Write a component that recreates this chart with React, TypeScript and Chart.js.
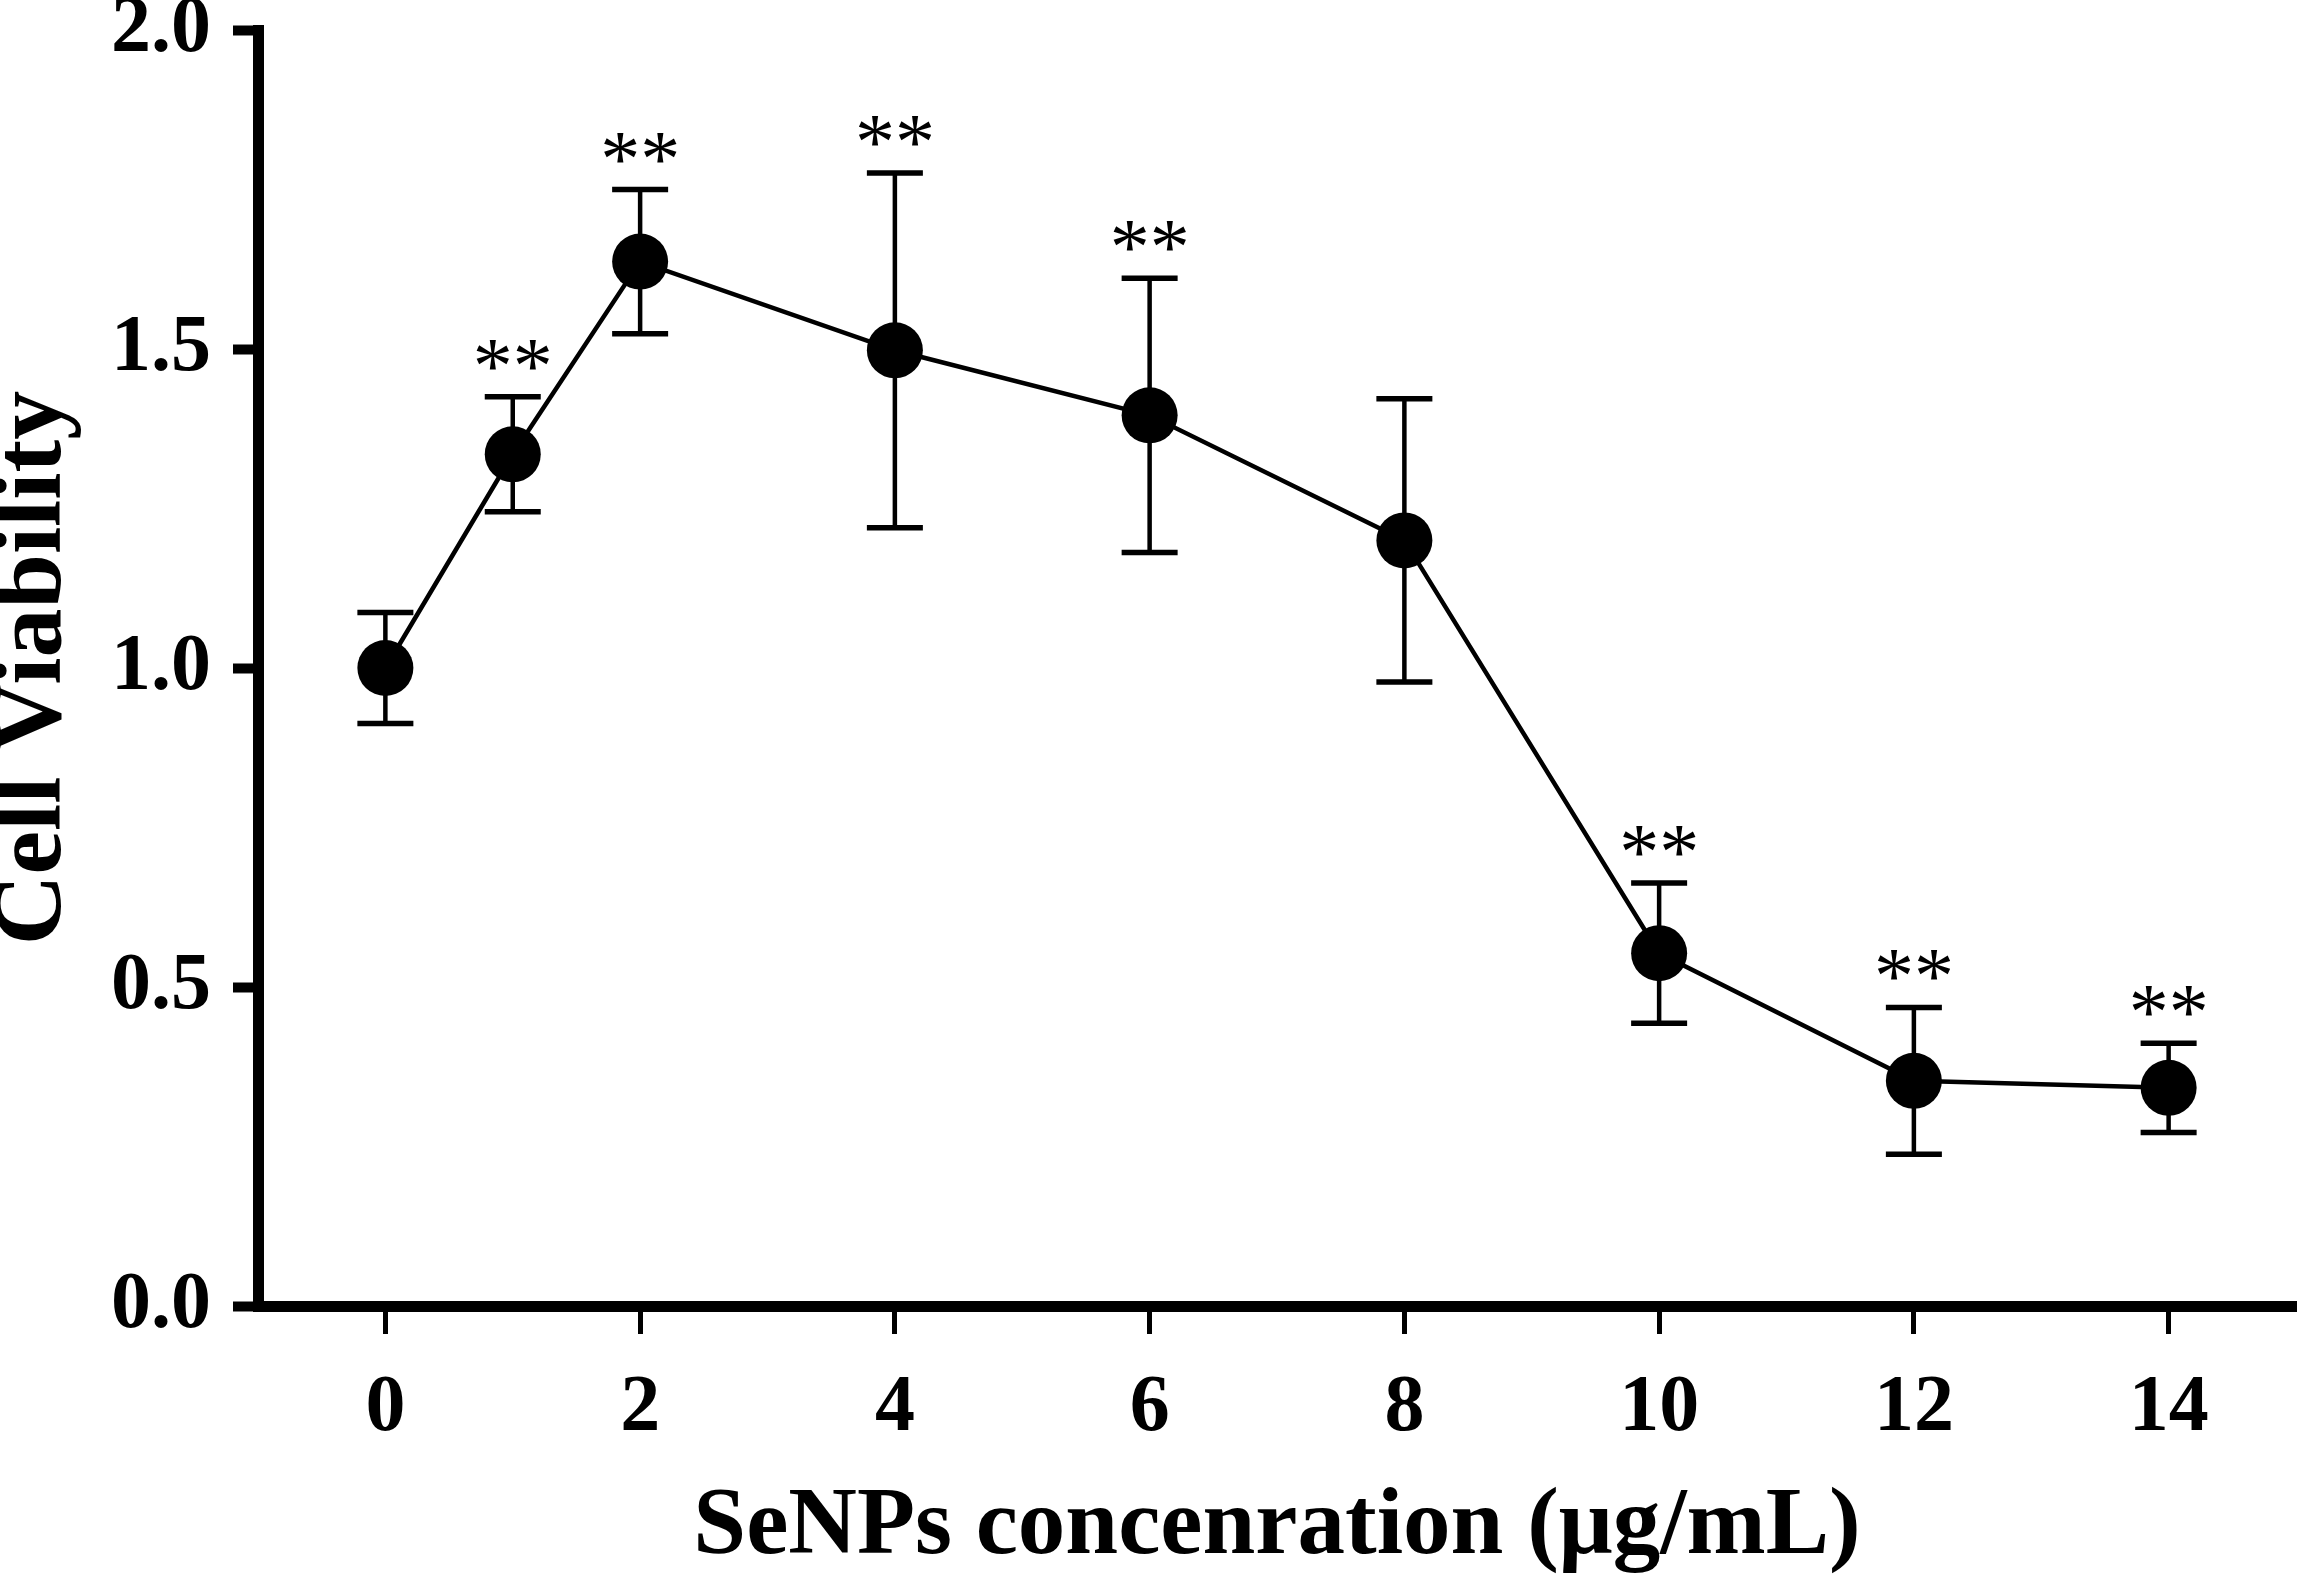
import { useEffect, useRef } from "react";
import { Chart, registerables, type Plugin } from "chart.js";

Chart.register(...registerables);

// values
const concentrations = [0, 1, 2, 4, 6, 8, 10, 12, 14];
const viability = [1.0, 1.335, 1.637, 1.498, 1.396, 1.2, 0.553, 0.353, 0.342];
const errors = [0.087, 0.09, 0.113, 0.278, 0.215, 0.222, 0.11, 0.115, 0.07];
const significance = ["", "**", "**", "**", "**", "", "**", "**", "**"];
const xTicks = [0, 2, 4, 6, 8, 10, 12, 14];
const yTicks = [0, 0.5, 1.0, 1.5, 2.0];

const serif = '"Liberation Serif", "Times New Roman", serif';

const errorBarPlugin: Plugin<"line"> = {
  id: "errorBars",
  beforeDatasetsDraw(chart) {
    const { ctx } = chart;
    const x = chart.scales.x;
    const y = chart.scales.y;
    ctx.save();
    ctx.strokeStyle = "#000";
    concentrations.forEach((c, i) => {
      const px = x.getPixelForValue(c);
      const top = y.getPixelForValue(viability[i] + errors[i]);
      const bottom = y.getPixelForValue(viability[i] - errors[i]);
      ctx.lineWidth = 4.5;
      ctx.beginPath();
      ctx.moveTo(px, top);
      ctx.lineTo(px, bottom);
      ctx.stroke();
      ctx.lineWidth = 5.5;
      ctx.beginPath();
      ctx.moveTo(px - 28, top);
      ctx.lineTo(px + 28, top);
      ctx.moveTo(px - 28, bottom);
      ctx.lineTo(px + 28, bottom);
      ctx.stroke();
    });
    ctx.restore();
  },
  afterDatasetsDraw(chart) {
    const { ctx } = chart;
    const x = chart.scales.x;
    const y = chart.scales.y;
    ctx.save();
    ctx.fillStyle = "#000";
    ctx.font = `80px ${serif}`;
    ctx.textAlign = "center";
    ctx.textBaseline = "alphabetic";
    concentrations.forEach((c, i) => {
      if (!significance[i]) return;
      const px = x.getPixelForValue(c);
      const top = y.getPixelForValue(viability[i] + errors[i]);
      ctx.fillText(significance[i], px, top - 4);
    });
    ctx.restore();
  },
};

export default function App() {
  const canvasRef = useRef<HTMLCanvasElement>(null);

  useEffect(() => {
    document.body.style.margin = "0";
    if (!canvasRef.current) return;

    const chart = new Chart(canvasRef.current, {
      type: "line",
      data: {
        datasets: [
          {
            data: concentrations.map((c, i) => ({ x: c, y: viability[i] })),
            borderColor: "#000",
            borderWidth: 4.5,
            pointRadius: 28,
            pointBackgroundColor: "#000",
            pointBorderWidth: 0,
            tension: 0,
            clip: false,
          },
        ],
      },
      options: {
        animation: false,
        responsive: true,
        maintainAspectRatio: false,
        devicePixelRatio: 1,
        layout: { autoPadding: false, padding: { top: 30, right: 7, bottom: 0, left: 0 } },
        plugins: {
          legend: { display: false },
          tooltip: { enabled: false },
        },
        scales: {
          x: {
            type: "linear",
            min: -1,
            max: 15,
            afterBuildTicks: (scale) => {
              scale.ticks = xTicks.map((v) => ({ value: v }));
            },
            afterFit: (scale) => {
              scale.height = 268;
              scale.paddingLeft = 0;
              scale.paddingRight = 0;
            },
            border: { display: true, width: 11, color: "#000" },
            grid: {
              drawOnChartArea: false,
              drawTicks: true,
              tickLength: 28,
              tickWidth: 5,
              tickColor: "#000",
              color: "#000",
            },
            ticks: {
              color: "#000",
              padding: 27,
              maxRotation: 0,
              autoSkip: false,
              font: { family: serif, weight: "bold", size: 80 },
            },
            title: {
              display: true,
              text: "SeNPs concenration (μg/mL)",
              color: "#000",
              font: { family: serif, weight: "bold", size: 95, lineHeight: 1 },
              padding: { top: 0, bottom: -2 },
            },
          },
          y: {
            min: 0,
            max: 2,
            afterBuildTicks: (scale) => {
              scale.ticks = yTicks.map((v) => ({ value: v }));
            },
            afterFit: (scale) => {
              scale.width = 258;
              scale.paddingTop = 0;
              scale.paddingBottom = 0;
            },
            border: { display: true, width: 11, color: "#000" },
            grid: {
              drawOnChartArea: false,
              drawTicks: true,
              tickLength: 25,
              tickWidth: 10,
              tickColor: "#000",
              color: "#000",
            },
            ticks: {
              color: "#000",
              padding: 22,
              callback: (v) => Number(v).toFixed(1),
              font: { family: serif, weight: "bold", size: 80 },
            },
            title: {
              display: true,
              text: "Cell Viability",
              color: "#000",
              font: { family: serif, weight: "bold", size: 98, lineHeight: 1 },
              padding: { top: -14, bottom: 0 },
            },
          },
        },
      },
      plugins: [errorBarPlugin],
    });

    return () => {
      chart.destroy();
    };
  }, []);

  return (
    <div style={{ position: "relative", width: 2303, height: 1574, background: "#fff" }}>
      <canvas ref={canvasRef} />
    </div>
  );
}
